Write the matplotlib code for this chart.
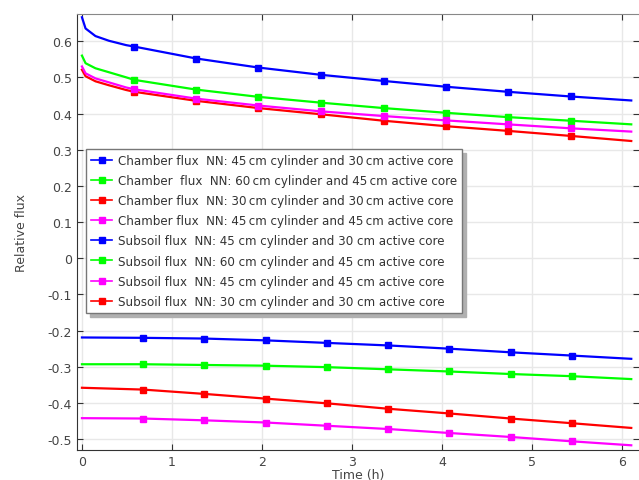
import matplotlib
matplotlib.use("Agg")
import matplotlib.pyplot as plt

# Chamber flux data
t_ch = [0.0, 0.04, 0.15, 0.30, 0.49, 0.58, 1.27, 1.96, 2.65, 3.35, 4.04, 4.73, 5.43, 6.10]
ch_blue = [0.666, 0.635, 0.614, 0.601, 0.589, 0.585, 0.552, 0.527, 0.507, 0.490, 0.474, 0.460, 0.447, 0.436]
ch_green = [0.560, 0.539, 0.525, 0.514, 0.500, 0.493, 0.466, 0.446, 0.430, 0.415, 0.402, 0.390, 0.380, 0.370]
ch_red = [0.521, 0.503, 0.489, 0.478, 0.465, 0.460, 0.435, 0.415, 0.398, 0.380, 0.365, 0.352, 0.338, 0.324]
ch_magenta = [0.530, 0.511, 0.497, 0.486, 0.472, 0.467, 0.441, 0.422, 0.406, 0.393, 0.381, 0.370, 0.359, 0.350]

# Subsoil flux data
t_sub = [0.0, 0.68, 1.36, 2.04, 2.72, 3.40, 4.08, 4.76, 5.44, 6.10]
sub_blue = [-0.219, -0.220, -0.222, -0.227, -0.234, -0.241, -0.250, -0.260, -0.269, -0.278]
sub_green = [-0.293, -0.293, -0.295, -0.297, -0.301, -0.307, -0.313, -0.320, -0.326, -0.334]
sub_magenta = [-0.442, -0.443, -0.448, -0.454, -0.463, -0.472, -0.483, -0.494, -0.506, -0.517]
sub_red = [-0.358, -0.363, -0.375, -0.388, -0.401, -0.416, -0.429, -0.443, -0.456, -0.469]

labels = [
    "Chamber flux  NN: 45\u2009cm cylinder and 30\u2009cm active core",
    "Chamber  flux  NN: 60\u2009cm cylinder and 45\u2009cm active core",
    "Chamber flux  NN: 30\u2009cm cylinder and 30\u2009cm active core",
    "Chamber flux  NN: 45\u2009cm cylinder and 45\u2009cm active core",
    "Subsoil flux  NN: 45 cm cylinder and 30 cm active core",
    "Subsoil flux  NN: 60 cm cylinder and 45 cm active core",
    "Subsoil flux  NN: 45 cm cylinder and 45 cm active core",
    "Subsoil flux  NN: 30 cm cylinder and 30 cm active core",
]

BLUE, GREEN, RED, MAG = "#0000ff", "#00ff00", "#ff0000", "#ff00ff"

fig = plt.figure(figsize=(6.39, 4.81), dpi=100)
ax = fig.add_axes([77/639, 30/481, 1 - 77/639, (451-15)/481])

ch_marks = list(range(5, 13))
sub_marks = list(range(1, 9))
series = [
    (t_ch, ch_blue, BLUE, ch_marks),
    (t_ch, ch_green, GREEN, ch_marks),
    (t_ch, ch_red, RED, ch_marks),
    (t_ch, ch_magenta, MAG, ch_marks),
    (t_sub, sub_blue, BLUE, sub_marks),
    (t_sub, sub_green, GREEN, sub_marks),
    (t_sub, sub_magenta, MAG, sub_marks),
    (t_sub, sub_red, RED, sub_marks),
]
handles = []
for (t, y, c, me), lab in zip(series, labels):
    ax.plot(t, y, color=c, lw=1.6, marker="s", ms=5, markevery=me)
    h, = ax.plot([], [], color=c, lw=1.2, marker="s", ms=4, label=lab)
    handles.append(h)

ax.set_xlim(-0.055, 6.186)
ax.set_ylim(-0.53, 0.675)
ax.set_xticks([0, 1, 2, 3, 4, 5, 6])
ax.set_yticks([-0.5, -0.4, -0.3, -0.2, -0.1, 0, 0.1, 0.2, 0.3, 0.4, 0.5, 0.6])
ax.set_yticklabels(["-0.5", "-0.4", "-0.3", "-0.2", "-0.1", "0", "0.1", "0.2", "0.3", "0.4", "0.5", "0.6"])
ax.grid(True, color="#e8e8e8", lw=1)
ax.set_axisbelow(True)
ax.tick_params(direction="in", top=True, right=True, length=4, labelsize=9, colors="#444444")
ax.tick_params(axis="both", color="#333333")
for s in ["left", "bottom"]:
    ax.spines[s].set_color("#333333")
ax.spines["top"].set_color("#888888")
ax.spines["right"].set_visible(False)

ax.set_xlabel("Time (h)", fontsize=9, color="#444444", labelpad=0)
ax.set_ylabel("Relative flux", fontsize=9, color="#444444", labelpad=14)

leg = ax.legend(handles=handles, loc="upper left", bbox_to_anchor=(9/562, (451-150)/436), fontsize=8.6,
                frameon=True, fancybox=False, shadow={"color": "#b0b0b0", "alpha": 1.0, "ox": 3, "oy": -3},
                borderaxespad=0, handlelength=1.8, handletextpad=0.5, labelspacing=0.6, borderpad=0.4)
leg.get_frame().set_edgecolor("#777777")
leg.get_frame().set_linewidth(1.0)
for txt in leg.get_texts():
    txt.set_color("#333333")

fig.savefig("out.png", dpi=100)
